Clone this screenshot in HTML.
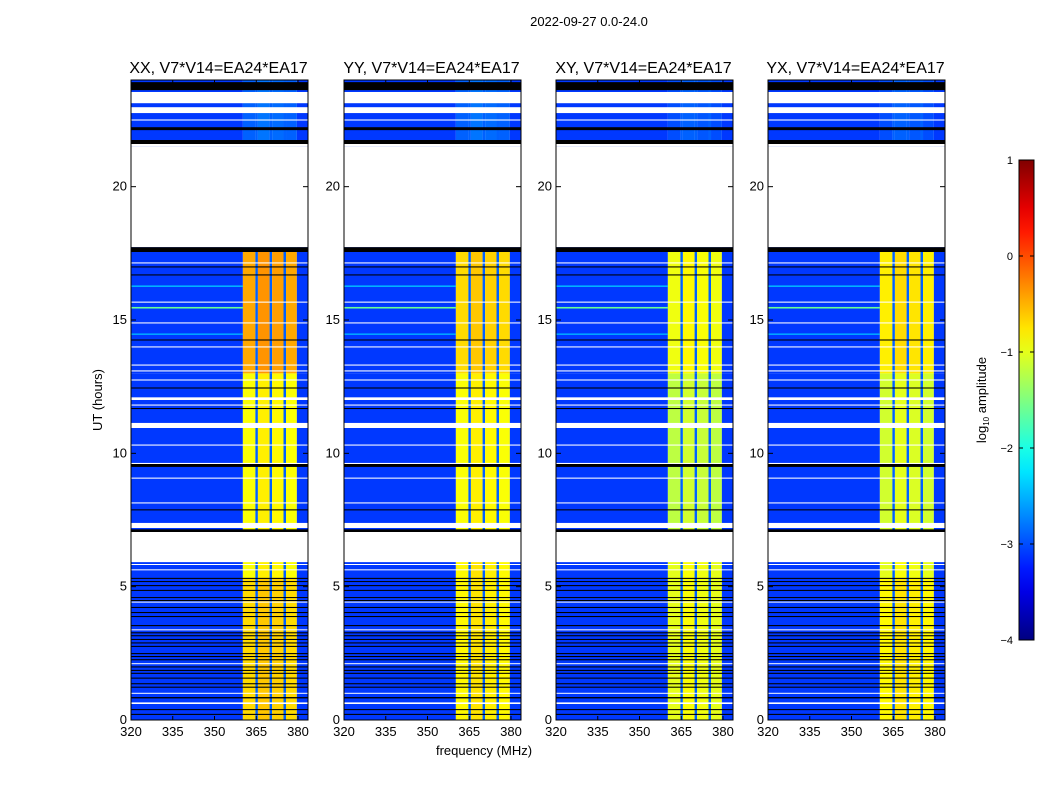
<!DOCTYPE html>
<html><head><meta charset="utf-8"><style>
body{margin:0;background:#fff}
svg text{font-family:"Liberation Sans","DejaVu Sans",sans-serif;fill:#000}
</style></head><body>
<svg id="fig" width="1050" height="800" xmlns="http://www.w3.org/2000/svg">
<rect width="1050" height="800" fill="#fff"/>
<text x="589" y="26" font-size="13" text-anchor="middle">2022-09-27 0.0-24.0</text>
<text x="484" y="755" font-size="13" text-anchor="middle">frequency (MHz)</text>
<text x="102" y="400" font-size="13" text-anchor="middle" transform="rotate(-90 102 400)">UT (hours)</text>
<g id="panels"></g>
<g id="cbar"></g>
</svg>
<script>
// ---- data ----
const panelTitles = ["XX, V7*V14=EA24*EA17","YY, V7*V14=EA24*EA17","XY, V7*V14=EA24*EA17","YX, V7*V14=EA24*EA17"];
const xTicks = [320,335,350,365,380];
const yTicks = [0,5,10,15,20];
const cbTicks = [-4,-3,-2,-1,0,1];
// frequency columns [startMHz, endMHz, type] type: 'bg' background, 'b' band, 'dv' divider
const freqCols = [[320,360.2,'bg'],[360.2,364.7,'b'],[364.7,365.6,'dv'],[365.6,369.8,'b'],[369.8,370.7,'dv'],[370.7,374.8,'b'],[374.8,375.7,'dv'],[375.7,379.6,'b'],[379.6,383.6,'bg']];
const subBandOffset = [0,0,-0.15,0.1,0,0.05,0,0,0];
// band zones in hours and band levels per panel
const zoneStart = [0,5.3,7.1,13,17.6];
const zoneEnd = [5.3,7.1,13,17.6,24];
const bandXX = [-0.7,-0.9,-0.9,-0.45,-2.9];
const bandYY = [-0.85,-0.85,-0.9,-0.7,-2.9];
const bandXY = [-1.0,-1.0,-1.2,-0.95,-3.0];
const bandYX = [-0.85,-1.0,-1.1,-0.8,-3.0];
const bandLevels = [bandXX,bandYY,bandXY,bandYX];
const bgLevel = -3.1;
const dividerLevel = -2.9;
// flagged time ranges: white = no data, black = flagged
const whiteRanges = [[23.13,23.55],[22.76,22.98],[22.48,22.52],[21.52,21.6],[17.73,21.52],[17.12,17.16],[15.65,15.69],[14.87,14.91],[13.97,14.01],[13.29,13.33],[13.07,13.11],[12.73,12.77],[12.0,12.1],[11.79,11.83],[10.95,11.14],[10.29,10.33],[9.6,9.64],[9.05,9.09],[8.12,8.16],[7.2,7.39],[5.92,7.05],[5.82,5.85],[5.62,5.65],[4.41,4.44],[3.37,3.4],[2.1,2.13],[0.99,1.02],[0.6,0.66]];
const blackRanges = [[23.62,23.92],[22.12,22.23],[21.6,21.75],[17.55,17.73],[16.97,17.01],[16.67,16.71],[14.23,14.27],[12.43,12.47],[11.66,11.7],[9.49,9.6],[7.86,7.9],[7.05,7.15],[5.29,5.33],[5.18,5.21],[5.02,5.06],[4.84,4.88],[4.58,4.61],[4.46,4.5],[4.2,4.24],[4.01,4.05],[3.86,3.9],[3.52,3.56],[3.25,3.29],[3.14,3.18],[3.0,3.04],[2.87,2.91],[2.74,2.78],[2.47,2.51],[2.36,2.4],[2.24,2.28],[1.97,2.01],[1.84,1.88],[1.73,1.77],[1.55,1.59],[1.34,1.38],[1.21,1.25],[0.81,0.86],[0.37,0.41],[0.19,0.23]];
// bright RFI rows [start,end,level]
const rfiRows = [[15.43,15.49,-1.6],[16.25,16.29,-2.2],[14.45,14.49,-2.3]];

// ---- layout ----
const panelX = [131,344,556,768];
const panelW = 177, yTop = 80, yBot = 720;
const fMin = 320, fMax = 383.6, tMin = 0, tMax = 24;
const NS = "http://www.w3.org/2000/svg";
function jet(v){let t=(v+4)/5;t=Math.max(0,Math.min(1,t));
 const c=x=>Math.round(255*Math.max(0,Math.min(1,x)));
 return `rgb(${c(1.5-Math.abs(4*t-3))},${c(1.5-Math.abs(4*t-2))},${c(1.5-Math.abs(4*t-1))})`;}
function mk(tag,attrs,parent){const e=document.createElementNS(NS,tag);for(const k in attrs)e.setAttribute(k,attrs[k]);parent.appendChild(e);return e;}
const panelsG=document.getElementById('panels');
panelX.forEach((px,pi)=>{
 const xs=f=>px+(f-fMin)/(fMax-fMin)*panelW;
 const ys=t=>yBot-(t-tMin)/(tMax-tMin)*(yBot-yTop);
 const g=mk('g',{},panelsG);
 
 
 zoneStart.forEach((zs,zi)=>{
  freqCols.forEach((fc,ci)=>{
   let v = fc[2]==='bg'?bgLevel:(fc[2]==='dv'?dividerLevel:bandLevels[pi][zi]+subBandOffset[ci]);
   const r=mk('rect',{x:xs(fc[0]),y:ys(zoneEnd[zi]),width:xs(fc[1])-xs(fc[0]),height:ys(zs)-ys(zoneEnd[zi]),fill:jet(v)},g);
   
   
  });
 });
 rfiRows.forEach(rr=>{
  const r=mk('rect',{x:xs(fMin),y:ys(rr[1]),width:xs(360.2)-xs(fMin),height:ys(rr[0])-ys(rr[1]),fill:jet(rr[2])},g);
  
  
 });
 whiteRanges.forEach(w=>{
  const r=mk('rect',{x:px,y:ys(w[1]),width:panelW,height:Math.max(1,ys(w[0])-ys(w[1])),fill:'#fff'},g);
  
  
 });
 blackRanges.forEach(w=>{
  const r=mk('rect',{x:px,y:ys(w[1]),width:panelW,height:Math.max(1,ys(w[0])-ys(w[1])),fill:'#000'},g);
  
  
 });
 const fr=mk('rect',{x:px,y:yTop,width:panelW,height:yBot-yTop,fill:'none',stroke:'#000','stroke-width':1},g);
 
 
 const tt=mk('text',{x:px+panelW/2-1,y:73,'font-size':16,'text-anchor':'middle'},g);
 tt.textContent=panelTitles[pi];
 
 
 xTicks.forEach(f=>{
  const x=xs(f);
  mk('line',{x1:x,x2:x,y1:yBot,y2:yBot-4,stroke:'#000'},g);
  mk('line',{x1:x,x2:x,y1:yTop,y2:yTop+4,stroke:'#000'},g);
  const t=mk('text',{x:x,y:yBot+16,'font-size':13,'text-anchor':'middle'},g);
  t.textContent=f;
  
  
 });
 yTicks.forEach(h=>{
  const y=ys(h);
  mk('line',{x1:px,x2:px+5,y1:y,y2:y,stroke:'#000'},g);
  mk('line',{x1:px+panelW,x2:px+panelW-5,y1:y,y2:y,stroke:'#000'},g);
  const t=mk('text',{x:px-4,y:y+4,'font-size':13,'text-anchor':'end'},g);
  t.textContent=h;
  
  
 });
});
// colorbar
const cb=document.getElementById('cbar');
const cbX=1019,cbW=15,cbT=160,cbB=640;
const defs=mk('defs',{},cb);
const grad=mk('linearGradient',{id:'jetg',x1:0,y1:1,x2:0,y2:0},defs);
for(let i=0;i<=20;i++){mk('stop',{offset:i/20,'stop-color':jet(-4+5*i/20)},grad);}
mk('rect',{x:cbX,y:cbT,width:cbW,height:cbB-cbT,fill:'url(#jetg)',stroke:'#000'},cb);
cbTicks.forEach(v=>{
 const y=cbB-(v+4)/5*(cbB-cbT);
 mk('line',{x1:cbX,x2:cbX+4,y1:y,y2:y,stroke:'#000'},cb);
 mk('line',{x1:cbX+cbW,x2:cbX+cbW-4,y1:y,y2:y,stroke:'#000'},cb);
 const t=mk('text',{x:cbX-6,y:y+4,'font-size':11,'text-anchor':'end'},cb);
 t.textContent=v<0?'\u2212'+(-v):String(v);
 
 
});
const cl=mk('text',{x:986,y:400,'font-size':13,'text-anchor':'middle',transform:'rotate(-90 986 400)'},cb);
cl.innerHTML='log<tspan font-size="8" dy="3">10</tspan><tspan dy="-3"> amplitude</tspan>';


</script>
</body></html>
